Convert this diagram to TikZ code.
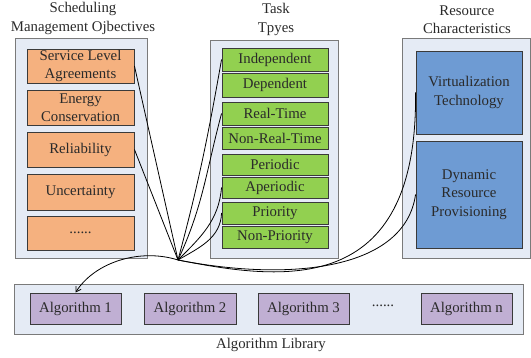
\documentclass[tikz,border=0pt]{standalone}
\usepackage{fontspec}
\setmainfont{Liberation Serif}
\usetikzlibrary{arrows.meta}
\definecolor{panelfill}{HTML}{E5EBF5}
\definecolor{paneldraw}{HTML}{7A7A7A}
\definecolor{orangefill}{HTML}{F5B17F}
\definecolor{greenfill}{HTML}{92D050}
\definecolor{bluefill}{HTML}{6E9BD3}
\definecolor{purplefill}{HTML}{C0AFD3}
\definecolor{boxdraw}{HTML}{3A3A3A}
\definecolor{txt}{HTML}{2A2A2A}
\begin{document}
\begin{tikzpicture}[x=1pt,y=-1pt,
  every node/.style={font=\fontsize{14.8}{18.5}\selectfont, text=txt, inner sep=0pt},
  panel/.style={draw=paneldraw, fill=panelfill, line width=0.9pt, rectangle},
  ibox/.style={draw=boxdraw, line width=0.9pt, rectangle, align=center},
  obox/.style={ibox, fill=orangefill, minimum width=107pt},
  gbox/.style={ibox, fill=greenfill, minimum width=106pt},
  bbox/.style={ibox, fill=bluefill, minimum width=106pt},
  pbox/.style={ibox, fill=purplefill, minimum height=31pt},
  title/.style={align=center},
  conn/.style={draw=black, line width=0.8pt}
]
\useasboundingbox (0,0) rectangle (531,358);
% panels
\node[panel, minimum width=132pt, minimum height=220pt] (lp) at (81,148) {};
\node[panel, minimum width=128pt, minimum height=218pt] (mp) at (274,149) {};
\node[panel, minimum width=128pt, minimum height=220pt] (rp) at (466,148) {};
\node[panel, minimum width=509pt, minimum height=50pt] (bp) at (268.5,309) {};
% titles
\node[title] (t1) at (83,18.5) {Scheduling\\Management Ojbectives};
\node[title] (t2) at (276,19.5) {Task\\Tpyes};
\node[title] (t3) at (467,19.5) {Resource\\Characteristics};
\node (t4) at (271,345) {Algorithm Library};
% orange
\node[obox, minimum height=34pt] (sla) at (80.5,66) {Service Level\\Agreements};
\node[obox, minimum height=35pt] (ene) at (80.5,107.5) {Energy\\Conservation};
\node[obox, minimum height=35pt] (rel) at (80.5,149.5) {Reliability};
\node[obox, minimum height=36pt] (unc) at (80.5,192) {Uncertainty};
\node[obox, minimum height=34pt] (odots) at (80.5,233) {......};
% green
\node[gbox, minimum height=23pt] (ind) at (275,59.5) {Independent};
\node[gbox, minimum height=24pt] (dep) at (275,85) {Dependent};
\node[gbox, minimum height=23pt] (rt) at (275,113.5) {Real-Time};
\node[gbox, minimum height=22pt] (nrt) at (275,138) {Non-Real-Time};
\node[gbox, minimum height=21pt] (per) at (275,164.5) {Periodic};
\node[gbox, minimum height=21pt] (aper) at (275,187.5) {Aperiodic};
\node[gbox, minimum height=22pt] (pri) at (275,213) {Priority};
\node[gbox, minimum height=22pt] (npri) at (275,237) {Non-Priority};
% blue
\node[bbox, minimum height=83pt] (virt) at (469,92.5) {Virtualization\\Technology};
\node[bbox, minimum height=107pt] (dyn) at (469,194.5) {Dynamic\\Resource\\Provisioning};
% purple
\node[pbox, minimum width=91pt] (a1) at (75.5,308.5) {Algorithm 1};
\node[pbox, minimum width=92pt] (a2) at (190,308.5) {Algorithm 2};
\node[pbox, minimum width=91pt] (a3) at (303.5,308.5) {Algorithm 3};
\node (adots) at (383,306) {......};
\node[pbox, minimum width=91pt] (an) at (466.5,308.5) {Algorithm n};
% connectors
\coordinate (hub) at (178,260);
\draw[conn] (sla.east) -- (hub);
\draw[conn] (rel.east) -- (hub);
\draw[conn] (ind.west) to[out=-100, in=75] (hub);
\draw[conn] (rt.west) to[out=-105, in=65] (hub);
\draw[conn] (aper.west) to[out=-95, in=45] (hub);
\draw[conn] (pri.west) to[out=-92, in=30] (hub);
\draw[conn] (virt.west) .. controls (418,300) and (280,280) .. (hub);
\draw[conn] (dyn.west) .. controls (405,270) and (290,282) .. (hub);
\draw[conn, -{Straight Barb[length=5pt,width=6pt]}] (hub) .. controls (140,248) and (95,262) .. (a1.north);
\end{tikzpicture}
\end{document}
